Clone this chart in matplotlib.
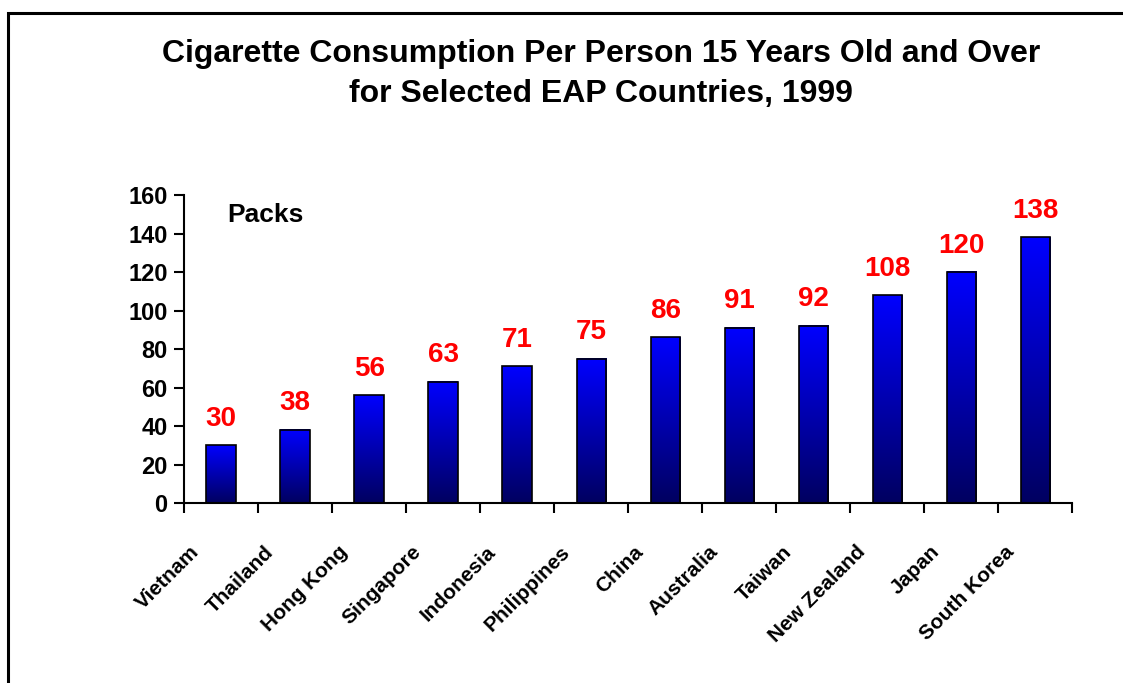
import matplotlib
matplotlib.use('Agg')
import matplotlib.pyplot as plt
import matplotlib.transforms as mtransforms
import numpy as np
from matplotlib.colors import LinearSegmentedColormap
from matplotlib.patches import Rectangle

countries = ["Vietnam", "Thailand", "Hong Kong", "Singapore", "Indonesia", "Philippines",
             "China", "Australia", "Taiwan", "New Zealand", "Japan", "South Korea"]
packs = [30, 38, 56, 63, 71, 75, 86, 91, 92, 108, 120, 138]
yticks = [0, 20, 40, 60, 80, 100, 120, 140, 160]

plt.rcParams['font.family'] = ['Liberation Sans', 'DejaVu Sans']
plt.rcParams['font.weight'] = 'bold'

fig = plt.figure(figsize=(11.23, 6.83), dpi=100)
ax = fig.add_axes([0.164, 0.2635, 0.791, 0.451])

# figure frame (only left and top visible in the original)
fig.patches.append(Rectangle((8 / 1123, -0.05), 1.2, 1 - 13 / 683 + 0.05,
                             transform=fig.transFigure, fill=False,
                             edgecolor='black', linewidth=2.2))

cmap = LinearSegmentedColormap.from_list('bar', ['#000060', '#0000ff'])
grad = np.linspace(0, 1, 256).reshape(-1, 1)
width = 0.4
x = np.arange(len(countries))
for xi, v in zip(x, packs):
    ax.imshow(grad, cmap=cmap, aspect='auto', origin='lower',
              extent=[xi - width / 2, xi + width / 2, 0, v], zorder=2)
    ax.add_patch(Rectangle((xi - width / 2, 0), width, v, fill=False,
                           edgecolor='black', linewidth=1.2, zorder=3))
    ax.text(xi, v + 7, str(v), ha='center', va='bottom', color='#ff0000',
            fontsize=20, fontweight='bold')

ax.set_xlim(-0.5, len(countries) - 0.5)
ax.set_ylim(0, 160)
ax.set_yticks(yticks)
ax.set_yticklabels([str(t) for t in yticks], fontsize=17, fontweight='bold')
ax.tick_params(axis='y', direction='out', length=7, width=1.5, pad=5)

ax.set_xticks(x)
ax.set_xticklabels(countries, rotation=45, ha='right', fontsize=15, fontweight='bold')
ax.set_xticks(np.arange(-0.5, len(countries)), minor=True)
ax.tick_params(axis='x', which='major', length=0, pad=24)
ax.tick_params(axis='x', which='minor', direction='out', length=7, width=1.5)
shift = mtransforms.ScaledTranslation(-0.18, -0.06, fig.dpi_scale_trans)
for lbl in ax.get_xticklabels():
    lbl.set_transform(lbl.get_transform() + shift)

for s in ['top', 'right']:
    ax.spines[s].set_visible(False)
for s in ['left', 'bottom']:
    ax.spines[s].set_linewidth(1.5)

ax.text(0.048, 0.975, "Packs", transform=ax.transAxes, fontsize=19,
        fontweight='bold', va='top', ha='left')

fig.text(0.535, 0.892, "Cigarette Consumption Per Person 15 Years Old and Over\nfor Selected EAP Countries, 1999",
         ha='center', va='center', fontsize=23, fontweight='bold', linespacing=1.45)

fig.savefig('out.png', dpi=100)
